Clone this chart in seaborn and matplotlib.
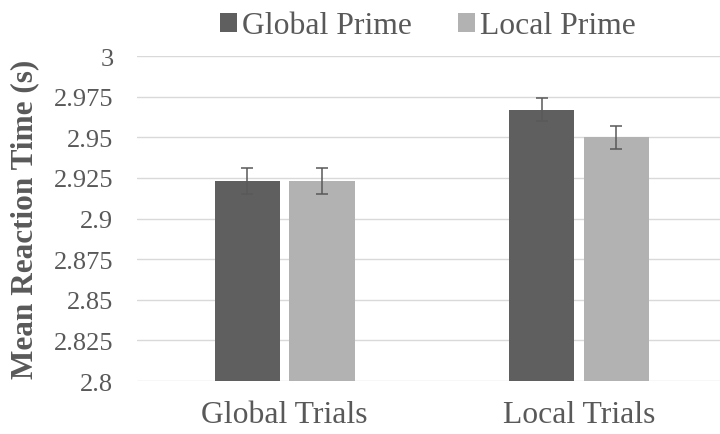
import matplotlib
matplotlib.use("Agg")
import matplotlib.pyplot as plt
from matplotlib.patches import Patch
from matplotlib.ticker import FixedLocator, FuncFormatter
import numpy as np
import pandas as pd
import seaborn as sns

# Mean reaction times (s) by trial type and prime type, with error bars
trial_types = ["Global Trials", "Local Trials"]
prime_types = ["Global Prime", "Local Prime"]
global_prime_rt = [2.923, 2.967]
local_prime_rt = [2.923, 2.950]
global_prime_err = [0.008, 0.007]
local_prime_err = [0.008, 0.007]
y_ticks = [2.8, 2.825, 2.85, 2.875, 2.9, 2.925, 2.95, 2.975, 3.0]

colors = ["#5F5F5F", "#B2B2B2"]
text_color = "#595959"
grid_color = "#D9D9D9"

df = pd.DataFrame({
    "trial": trial_types * 2,
    "prime": [prime_types[0]] * 2 + [prime_types[1]] * 2,
    "rt": global_prime_rt + local_prime_rt,
})
errors = {prime_types[0]: global_prime_err, prime_types[1]: local_prime_err}

sns.set_theme(style="white")
plt.rcParams["font.family"] = ["Liberation Serif", "DejaVu Serif"]

fig = plt.figure(figsize=(7.2, 4.35), dpi=100)
ax = fig.add_axes([137 / 720, 53 / 435, 583 / 720, 325 / 435])

sns.barplot(data=df, x="trial", y="rt", hue="prime", hue_order=prime_types,
            order=trial_types, palette=colors, width=0.507, gap=0.123,
            saturation=1, legend=False, ax=ax, edgecolor="none", linewidth=0,
            zorder=2)

# error bars centred on each bar
for prime, container in zip(prime_types, ax.containers):
    xs = [b.get_x() + b.get_width() / 2 for b in container]
    ys = [b.get_height() + b.get_y() for b in container]
    ax.errorbar(xs, ys, yerr=errors[prime], fmt="none", ecolor=text_color,
                elinewidth=1.1, capsize=4.6, capthick=1.1, zorder=3)

ax.set_ylim(2.8, 3.0)
ax.set_xlim(-0.502, 1.479)
ax.yaxis.set_major_locator(FixedLocator(y_ticks))
ax.yaxis.set_major_formatter(FuncFormatter(lambda v, p: f"{v:g}"))
ax.grid(axis="y", color=grid_color, linewidth=1.0, zorder=0)
ax.set_axisbelow(True)
for s in ax.spines.values():
    s.set_visible(False)

ax.tick_params(axis="y", length=0, pad=17, labelsize=19, labelcolor=text_color)
ax.tick_params(axis="x", length=0, pad=14, labelsize=22.8, labelcolor=text_color)
ax.set_xlabel("")
ax.set_ylabel("Mean Reaction Time (s)", fontsize=22.5, fontweight="bold",
              color=text_color)
ax.yaxis.set_label_coords(-0.168, 0.5)

handles = [Patch(facecolor=c, edgecolor="none") for c in colors]
fig.legend(handles, prime_types, loc="center", bbox_to_anchor=(428 / 720, 1 - 27 / 435),
           ncol=2, frameon=False, fontsize=22.8, labelcolor=text_color,
           handlelength=0.55, handleheight=0.55, handletextpad=0.15,
           columnspacing=1.45, borderaxespad=0, borderpad=0)

fig.savefig("out.png", dpi=100)
